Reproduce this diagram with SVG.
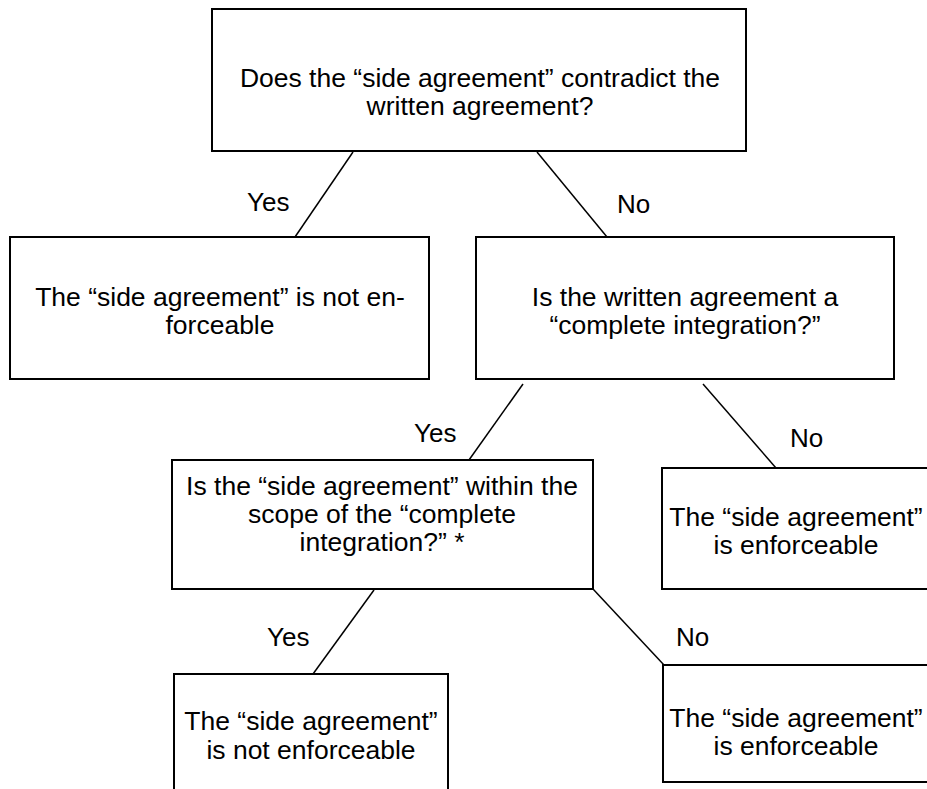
<svg xmlns="http://www.w3.org/2000/svg" width="927" height="789" viewBox="0 0 927 789">
<style>
.box{fill:#fff;stroke:#000;stroke-width:2}
.t{font-family:"Liberation Sans",Arial,sans-serif;font-size:26.5px;fill:#000;text-anchor:middle}
.l{font-family:"Liberation Sans",Arial,sans-serif;font-size:26px;fill:#000}
.c{stroke:#000;stroke-width:1.5;fill:none}
</style>
<rect width="927" height="789" fill="#fff"/>
<g id="connectors">
<line class="c" x1="353" y1="152" x2="295" y2="237"/>
<line class="c" x1="537" y1="152" x2="607" y2="237"/>
<line class="c" x1="523" y1="384" x2="469" y2="460"/>
<line class="c" x1="703" y1="384" x2="776" y2="468"/>
<line class="c" x1="374" y1="590" x2="313" y2="674"/>
<line class="c" x1="593" y1="589" x2="664" y2="665"/>
<text class="l" x="247" y="211">Yes</text>
<text class="l" x="617" y="213">No</text>
<text class="l" x="414" y="442">Yes</text>
<text class="l" x="790" y="447">No</text>
<text class="l" x="267" y="646">Yes</text>
<text class="l" x="676" y="646">No</text>
</g>
<g id="q1">
<rect class="box" x="212" y="9" width="534" height="142"/>
<text class="t" x="480" y="87">Does the “side agreement” contradict the</text>
<text class="t" x="480" y="115">written agreement?</text>
</g>
<g id="r1">
<rect class="box" x="10" y="237" width="419" height="142"/>
<text class="t" x="220" y="306">The “side agreement” is not en-</text>
<text class="t" x="220" y="334">forceable</text>
</g>
<g id="q2">
<rect class="box" x="476" y="237" width="418" height="142"/>
<text class="t" x="685" y="306">Is the written agreement a</text>
<text class="t" x="685" y="334">“complete integration?”</text>
</g>
<g id="q3">
<rect class="box" x="172" y="460" width="421" height="129"/>
<text class="t" x="382" y="495">Is the “side agreement” within the</text>
<text class="t" x="382" y="523">scope of the “complete</text>
<text class="t" x="382" y="551">integration?” *</text>
</g>
<g id="r2">
<rect class="box" x="662" y="468" width="266" height="121"/>
<text class="t" x="796" y="526">The “side agreement”</text>
<text class="t" x="796" y="554">is enforceable</text>
</g>
<g id="r3">
<rect class="box" x="174" y="674" width="274" height="130"/>
<text class="t" x="311" y="730">The “side agreement”</text>
<text class="t" x="311" y="759">is not enforceable</text>
</g>
<g id="r4">
<rect class="box" x="663" y="665" width="265" height="117"/>
<text class="t" x="796" y="727">The “side agreement”</text>
<text class="t" x="796" y="755">is enforceable</text>
</g>
</svg>
